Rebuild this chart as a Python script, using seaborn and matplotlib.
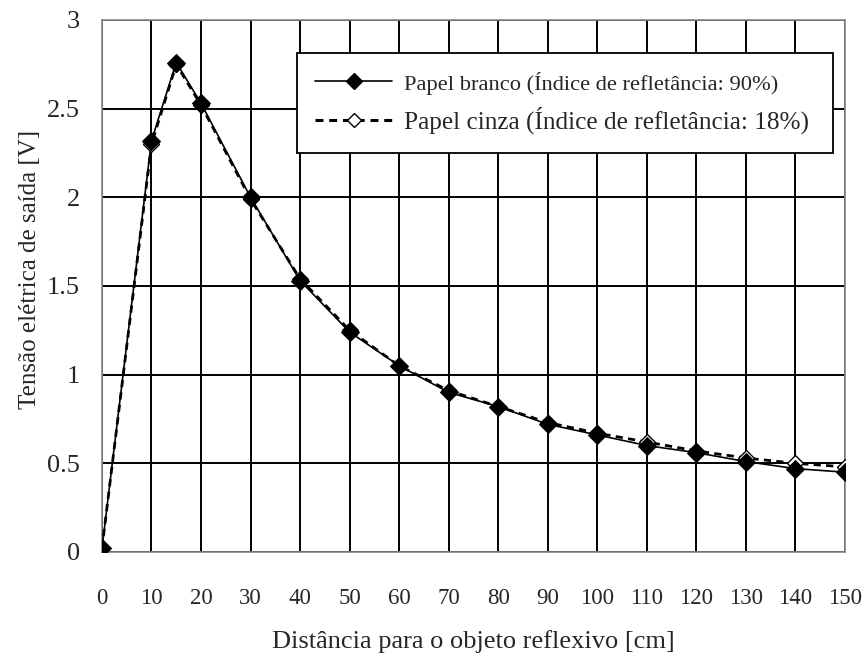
import matplotlib
matplotlib.use("Agg")
import matplotlib.pyplot as plt
import seaborn as sns
import pandas as pd
from matplotlib.lines import Line2D

distance_cm = [0, 10, 15, 20, 30, 40, 50, 60, 70, 80, 90, 100, 110, 120, 130, 140, 150]
white_paper = [0.02, 2.32, 2.76, 2.53, 2.00, 1.53, 1.24, 1.05, 0.90, 0.82, 0.72, 0.66, 0.60, 0.56, 0.51, 0.47, 0.45]
gray_paper = [0.02, 2.30, 2.75, 2.52, 1.99, 1.54, 1.25, 1.05, 0.91, 0.82, 0.73, 0.67, 0.62, 0.57, 0.53, 0.50, 0.48]
label_white = "Papel branco (Índice de refletância: 90%)"
label_gray = "Papel cinza (Índice de refletância: 18%)"
x_ticks = list(range(0, 151, 10))
y_ticks = [0, 0.5, 1, 1.5, 2, 2.5, 3]
y_tick_labels = ["0", "0.5", "1", "1.5", "2", "2.5", "3"]
x_label = "Distância para o objeto reflexivo [cm]"
y_label = "Tensão elétrica de saída [V]"

sns.set_style("white")
plt.rcParams["font.family"] = ["Liberation Serif", "DejaVu Serif"]

df_white = pd.DataFrame({"x": distance_cm, "y": white_paper})
df_gray = pd.DataFrame({"x": distance_cm, "y": gray_paper})

fig = plt.figure(figsize=(8.67, 6.59), dpi=100)
ax = fig.add_axes([0.1176, 0.1624, 0.857, 0.8073])

dash = (0, (2.6, 1.9))
sns.lineplot(data=df_gray, x="x", y="y", ax=ax, color="black", linewidth=2.0,
             linestyle=dash, marker="D", markersize=8,
             markerfacecolor="white", markeredgecolor="black", markeredgewidth=1.0,
             zorder=3, estimator=None)
sns.lineplot(data=df_white, x="x", y="y", ax=ax, color="black", linewidth=1.2,
             marker="D", markersize=9.5, markerfacecolor="black", markeredgecolor="black",
             zorder=4, estimator=None)

ax.set_xlim(0, 150)
ax.set_ylim(0, 3)
ax.set_xticks(x_ticks)
ax.set_xticklabels([str(t) for t in x_ticks])
ax.set_yticks(y_ticks)
ax.set_yticklabels(y_tick_labels)
ax.grid(True, color="black", linewidth=1.4)
ax.set_axisbelow(True)
for s in ax.spines.values():
    s.set_color("#8a8a8a")
    s.set_linewidth(1.2)
ax.tick_params(axis="x", length=0, pad=26, labelsize=16.5)
ax.tick_params(axis="y", length=0, pad=16, labelsize=19)
ax.set_xlabel(x_label, fontsize=19)
ax.set_ylabel(y_label, fontsize=18)
ax.xaxis.set_label_coords(0.5, -0.169)
ax.xaxis.label.set_va("center")
ax.yaxis.set_label_coords(-0.097, 0.532)
ax.yaxis.label.set_va("center")

handles = [
    Line2D([], [], color="black", linewidth=1.2, marker="D", markersize=8,
           markerfacecolor="black"),
    Line2D([], [], color="black", linewidth=2.2, linestyle=dash, marker="D",
           markersize=7, markerfacecolor="white", markeredgecolor="black"),
]
leg = ax.legend(handles, [label_white, label_gray], loc="upper left",
                bbox_to_anchor=(0.262, 0.759, 0.7214, 0.179), mode="expand",
                frameon=True, fancybox=False, prop={"size": 18},
                edgecolor="black", framealpha=1, handlelength=3.05,
                borderpad=0.75, borderaxespad=0, labelspacing=0.47, handletextpad=0.5)
leg.get_frame().set_linewidth(1.3)
leg.get_texts()[0].set_fontsize(16.2)
leg.get_texts()[1].set_fontsize(18.2)

fig.savefig("out.png", dpi=100)
